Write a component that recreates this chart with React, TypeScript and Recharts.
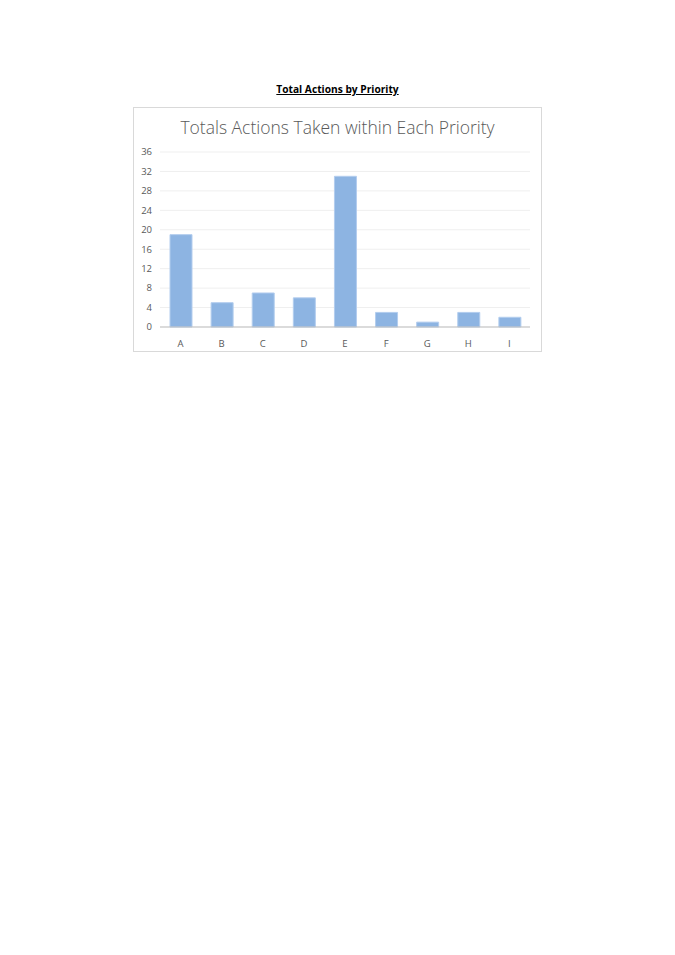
import React from "react";
import {BarChart, Bar, XAxis, YAxis, CartesianGrid} from "recharts";

const priorities = ["A", "B", "C", "D", "E", "F", "G", "H", "I"];
const actionCounts = [19, 5, 7, 6, 31, 3, 1, 3, 2];
const yTicks = [0, 4, 8, 12, 16, 20, 24, 28, 32, 36];

const data = priorities.map((name, i) => ({name, value: actionCounts[i]}));

const tickStyle = {fontSize: 9.5, fill: "#595959", fontFamily: "'Open Sans', sans-serif"};

export default function App() {
    return <div style={{position: "absolute", left: 0, top: 0, width: 675, height: 955, background: "#fff"}}>
        <div style={{
            position: "absolute", left: 0, width: 675, top: 82, textAlign: "center",
            fontFamily: "'Open Sans', sans-serif", fontWeight: 700, fontSize: 10.2,
            textDecoration: "underline", color: "#000"
        }}>
            Total Actions by Priority
        </div>
        <div style={{
            position: "absolute", left: 133, top: 107, width: 409, height: 245,
            border: "1px solid #d9d9d9", boxSizing: "border-box"
        }}>
            <div style={{
                position: "absolute", left: 0, width: 407, top: 7, textAlign: "center",
                fontFamily: "'Open Sans', sans-serif", fontWeight: 300, fontSize: 17.5,
                color: "#595959"
            }}>
                Totals Actions Taken within Each Priority
            </div>
            <BarChart
                width={407}
                height={243}
                data={data}
                margin={{top: 44, right: 11, bottom: 4, left: 6}}
            >
                <CartesianGrid vertical={false} stroke="#efefef" />
                <XAxis
                    dataKey="name"
                    height={20}
                    tickLine={false}
                    axisLine={{stroke: "#bfbfbf"}}
                    tick={tickStyle}
                    tickMargin={7}
                />
                <YAxis
                    width={20}
                    domain={[0, 36]}
                    ticks={yTicks}
                    interval={0}
                    axisLine={false}
                    tickLine={false}
                    tick={tickStyle}
                />
                <Bar dataKey="value" fill="#8db4e2" stroke="#b3cdee" strokeWidth={1} barSize={22}
                     isAnimationActive={false} />
            </BarChart>
        </div>
    </div>;
}
